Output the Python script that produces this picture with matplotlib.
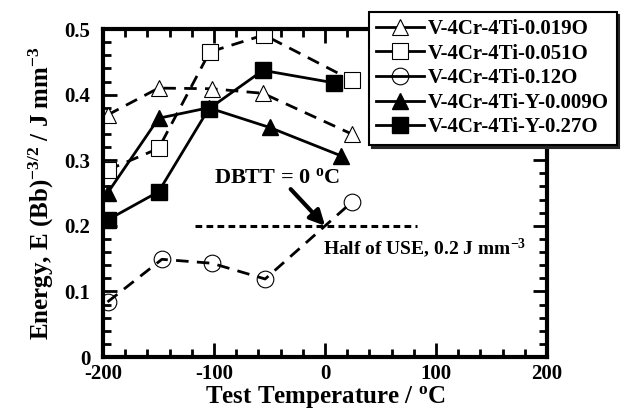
import matplotlib.pyplot as plt
import matplotlib as mpl

# data
temp_a = [-196, -150, -102, -56, 24]
e_019 = [0.369, 0.410, 0.409, 0.402, 0.340]

temp_b = [-196, -150, -104, -55, 24]
e_051 = [0.285, 0.318, 0.465, 0.491, 0.422]

temp_c = [-196, -147, -102, -54, 24]
e_12 = [0.084, 0.149, 0.143, 0.119, 0.236]

temp_d = [-196, -150, -105, -50, 14]
e_y009 = [0.250, 0.364, 0.380, 0.350, 0.307]

temp_e = [-196, -150, -105, -56, 8]
e_y27 = [0.209, 0.252, 0.378, 0.437, 0.418]

labels = ["V-4Cr-4Ti-0.019O", "V-4Cr-4Ti-0.051O", "V-4Cr-4Ti-0.12O",
          "V-4Cr-4Ti-Y-0.009O", "V-4Cr-4Ti-Y-0.27O"]

half_use = 0.2
half_x = [-117, 83]

mpl.rcParams['font.family'] = 'Liberation Serif'
mpl.rcParams['font.weight'] = 'bold'
mpl.rcParams['axes.labelweight'] = 'bold'
mpl.rcParams['axes.unicode_minus'] = False
mpl.rcParams['mathtext.fontset'] = 'custom'
mpl.rcParams['mathtext.rm'] = 'Liberation Serif:bold'
mpl.rcParams['mathtext.it'] = 'Liberation Serif:bold'
mpl.rcParams['mathtext.bf'] = 'Liberation Serif:bold'
mpl.rcParams['mathtext.default'] = 'rm'

fig = plt.figure(figsize=(6.21, 4.09), dpi=100)
ax = fig.add_axes([0.166, 0.127, 0.715, 0.802])

lw = 2.0
ms = 12
dash = (0, (4.5, 3))

ax.plot(temp_a, e_019, color='k', lw=lw, linestyle=dash, marker='^', ms=ms,
        mfc='white', mec='k', mew=0.8, label=labels[0])
ax.plot(temp_b, e_051, color='k', lw=lw, linestyle=dash, marker='s', ms=ms - 1,
        mfc='white', mec='k', mew=0.8, label=labels[1])
ax.plot(temp_c, e_12, color='k', lw=lw, linestyle=dash, marker='o', ms=ms,
        mfc='none', mec='k', mew=0.8, label=labels[2])
ax.plot(temp_d, e_y009, color='k', lw=lw, linestyle='-', marker='^', ms=ms,
        mfc='k', mec='k', label=labels[3])
ax.plot(temp_e, e_y27, color='k', lw=lw, linestyle='-', marker='s', ms=ms - 1,
        mfc='k', mec='k', label=labels[4])

ax.plot(half_x, [half_use, half_use], color='k', lw=2.2, linestyle=(0, (2.2, 1.4)))

ax.annotate("", xy=(0, 0.2), xytext=(-31, 0.256),
            arrowprops=dict(arrowstyle='-|>,head_length=0.9,head_width=0.45',
                            color='k', lw=3, shrinkA=0, shrinkB=0))
ax.text(-43, 0.273, "DBTT = 0 $^{o}$C", fontsize=16, ha='center', va='center')
ax.text(-2, 0.166, "Half of USE, 0.2 J mm$^{-3}$", fontsize=14, ha='left', va='center')

ax.set_xlim(-200, 200)
ax.set_ylim(0, 0.5)
ax.set_xticks([-200, -100, 0, 100, 200])
ax.set_yticks([0, 0.1, 0.2, 0.3, 0.4, 0.5])
ax.set_yticklabels(["0", "0.1", "0.2", "0.3", "0.4", "0.5"])
ax.xaxis.set_minor_locator(mpl.ticker.MultipleLocator(20))
ax.yaxis.set_minor_locator(mpl.ticker.MultipleLocator(0.02))
ax.tick_params(which='both', direction='in', top=True, right=True, width=2,
               labelsize=15)
ax.tick_params(axis='x', which='major', pad=5)
ax.tick_params(axis='y', which='major', pad=9)
ax.tick_params(which='major', length=10)
ax.tick_params(which='minor', length=6)
for s in ax.spines.values():
    s.set_linewidth(3)

ax.set_xlabel("Test Temperature / $^{o}$C", fontsize=18, labelpad=0)
ax.set_ylabel("Energy, E (Bb)$^{-3/2}$ / J mm$^{-3}$", fontsize=18, labelpad=6)

leg = fig.legend(loc='upper left', bbox_to_anchor=(0.594, 0.971),
                 bbox_transform=fig.transFigure, borderaxespad=0,
                 fontsize=15, handlelength=2.3, handletextpad=0.2,
                 labelspacing=0.22, borderpad=0.35,
                 shadow={'facecolor': '0.15', 'edgecolor': '0.15', 'alpha': 1},
                 fancybox=False, framealpha=1, edgecolor='k')
leg.get_frame().set_linewidth(1.5)
for h in leg.get_lines():
    h.set_linestyle('-')

fig.savefig("out.png", dpi=100)
